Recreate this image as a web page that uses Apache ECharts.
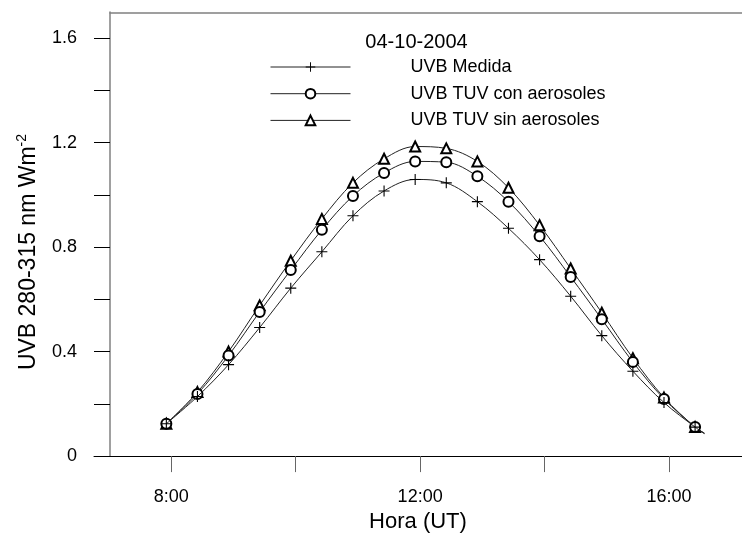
<!DOCTYPE html>
<html><head><meta charset="utf-8">
<script src="https://cdn.jsdelivr.net/npm/echarts@6/dist/echarts.min.js"></script>
<style>html,body{margin:0;padding:0;background:#fff}#c{width:742px;height:538px}</style>
</head><body><div id="c"></div>
<script>
const chartTitle = '04-10-2004';
const seriesNames = ['UVB Medida', 'UVB TUV con aerosoles', 'UVB TUV sin aerosoles'];
const times = [7.92, 8.42, 8.92, 9.42, 9.92, 10.42, 10.92, 11.42, 11.92, 12.42, 12.92, 13.42, 13.92, 14.42, 14.92, 15.42, 15.92, 16.42];
const uvbMedida = [0.124, 0.228, 0.350, 0.492, 0.643, 0.782, 0.920, 1.015, 1.059, 1.046, 0.974, 0.872, 0.752, 0.612, 0.461, 0.325, 0.205, 0.111];
const uvbCon    = [0.124, 0.238, 0.385, 0.552, 0.712, 0.866, 0.996, 1.084, 1.128, 1.125, 1.071, 0.974, 0.842, 0.686, 0.524, 0.360, 0.219, 0.111];
const uvbSin    = [0.124, 0.245, 0.400, 0.577, 0.748, 0.908, 1.046, 1.138, 1.185, 1.178, 1.128, 1.027, 0.884, 0.718, 0.549, 0.375, 0.224, 0.111];
const lineEndTime = 16.57;
const lineEndValues = [0.086, 0.087, 0.088];
const xTickValues = [8, 10, 12, 14, 16];
const xLabelValues = [8, 12, 16];
const yTickValues = [0, 0.2, 0.4, 0.6, 0.8, 1.0, 1.2, 1.4, 1.6];
const yLabelValues = [0, 0.4, 0.8, 1.2, 1.6];

const FONT = '"Liberation Sans", Arial, sans-serif';
const plusPath = 'path://M4.5,0 h1 v4.5 h4.5 v1 h-4.5 v4.5 h-1 v-4.5 h-4.5 v-1 h4.5 z';
const symbols = [plusPath, 'emptyCircle', 'emptyTriangle'];
const symbolSizes = [11, 10, 10];
const allValues = [uvbMedida, uvbCon, uvbSin];

function buildData(vals, i) {
  const d = times.map((t, k) => [t, vals[k]]);
  d.push({ value: [lineEndTime, lineEndValues[i]], symbol: 'none' });
  return d;
}

const chart = echarts.init(document.getElementById('c'), null, { renderer: 'canvas' });
chart.setOption({
  animation: false,
  backgroundColor: '#fff',
  textStyle: { fontFamily: FONT, color: '#000' },
  title: {
    text: chartTitle, left: 411.5, top: 27, textAlign: 'center',
    textStyle: { fontSize: 20, fontWeight: 'normal', color: '#000', fontFamily: FONT, lineHeight: 20 }
  },
  legend: {
    orient: 'vertical', left: 265, top: 53,
    itemWidth: 80, itemHeight: 12, itemGap: 8.7,
    data: seriesNames,
    itemStyle: { borderWidth: 1 },
    lineStyle: { width: 1 },
    textStyle: { fontSize: 18, lineHeight: 18, color: '#000', fontFamily: FONT, padding: [0, 0, 0, 55] }
  },
  grid: [
    { left: 94, right: -20, top: 12, bottom: 76, containLabel: false },
    { left: 110, right: -20, top: 12, height: 1, containLabel: false }
  ],
  xAxis: [{
    type: 'value', gridIndex: 0, min: 6.757, max: 17.174,
    name: 'Hora (UT)', nameLocation: 'middle', nameGap: 54,
    nameTextStyle: { fontSize: 22, color: '#000', fontFamily: FONT, lineHeight: 22 },
    axisLine: { show: true, onZero: false, lineStyle: { color: '#000', width: 1 } },
    axisTick: { show: true, inside: false, length: 16, customValues: xTickValues, lineStyle: { color: '#666', width: 1 } },
    axisLabel: { show: true, customValues: xLabelValues, margin: 32, fontSize: 18, color: '#000', fontFamily: FONT,
      formatter: v => Math.round(v) + ':00' },
    splitLine: { show: false }
  }, {
    type: 'value', gridIndex: 1, position: 'top', min: 0, max: 1,
    axisLine: { show: true, lineStyle: { color: '#808080', width: 1.5 } },
    axisTick: { show: false }, axisLabel: { show: false }, splitLine: { show: false }
  }],
  yAxis: [{
    type: 'value', gridIndex: 0, min: 0, max: 1.7, offset: -16,
    name: '{b|UVB 280-315 nm Wm}{sup|-2}', nameLocation: 'middle', nameGap: 70,
    nameTextStyle: {
      fontSize: 23, color: '#000', fontFamily: FONT, padding: [0, 36, 0, 0],
      rich: {
        b: { fontSize: 23, fontFamily: FONT, color: '#000', lineHeight: 25, verticalAlign: 'bottom' },
        sup: { fontSize: 14, fontFamily: FONT, color: '#000', lineHeight: 25, verticalAlign: 'top' }
      }
    },
    axisLine: { show: true, onZero: false, lineStyle: { color: '#808080', width: 1.5 } },
    axisTick: { show: true, inside: false, length: 16, customValues: yTickValues, lineStyle: { color: '#000', width: 1 } },
    axisLabel: { show: true, customValues: yLabelValues, margin: 33, fontSize: 18, color: '#000', fontFamily: FONT,
      formatter: v => (v === 0 ? '0' : v.toFixed(1)) },
    splitLine: { show: false }
  }, {
    type: 'value', gridIndex: 1, show: false
  }],
  series: seriesNames.map((name, i) => ({
    name, type: 'line', xAxisIndex: 0, yAxisIndex: 0,
    data: buildData(allValues[i], i),
    smooth: 0.35,
    symbol: symbols[i], symbolSize: symbolSizes[i], showAllSymbol: true,
    lineStyle: { color: '#222', width: 1 },
    itemStyle: i === 0 ? { color: '#000', borderWidth: 0 } : { color: '#000', borderColor: '#000', borderWidth: 1 },
    emphasis: { disabled: true },
    z: 3 - i
  }))
});
</script>
</body></html>
